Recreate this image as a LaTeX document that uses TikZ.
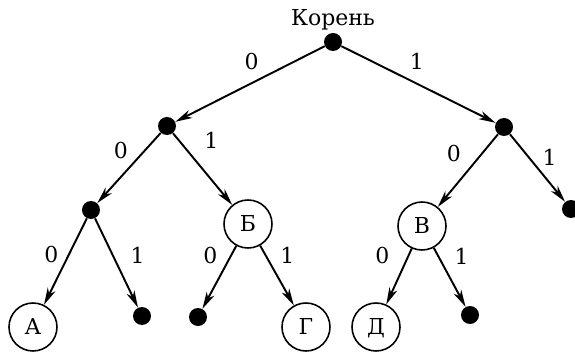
\documentclass[tikz,border=0pt]{standalone}
\usepackage{fontspec}
\setmainfont{DejaVu Serif}
\usetikzlibrary{arrows.meta,positioning}

\begin{document}
\begin{tikzpicture}[
  dot/.style={circle, fill=black, inner sep=0pt, minimum size=0.36cm, on grid},
  letter/.style={circle, draw, line width=0.9pt, inner sep=0pt, minimum size=0.96cm, on grid,
    font=\fontsize{12.5}{14}\selectfont, text height=9.1pt, text depth=0pt},
  bit/.style={inner sep=0pt, font=\fontsize{12.5}{14}\selectfont},
  arrow/.style={line width=1.1pt, -{Stealth[length=0.34cm, width=0.17cm, inset=0.1cm]}}]

  \useasboundingbox (-6.66,0.84) rectangle (4.84,-6.24);

  \node[dot] (root) at (0,0) {};
  \node[on grid, above=0.45cm of root, font=\fontsize{12.5}{14}\selectfont] (rootname) {Корень};
  \node[dot, below left=1.68cm and 3.32cm of root] (n0) {};
  \node[dot, below right=1.70cm and 3.42cm of root] (n1) {};
  \node[dot, below left=1.68cm and 1.52cm of n0] (n00) {};
  \node[letter, below right=1.96cm and 1.62cm of n0] (n01) {Б};
  \node[letter, below left=1.98cm and 1.64cm of n1] (n10) {В};
  \node[dot, below right=1.64cm and 1.34cm of n1] (n11) {};
  \node[letter, below left=2.34cm and 1.16cm of n00] (n000) {А};
  \node[dot, below right=2.12cm and 1.02cm of n00] (n001) {};
  \node[dot, below left=1.86cm and 1.00cm of n01] (n010) {};
  \node[letter, below right=2.06cm and 1.16cm of n01] (n011) {Г};
  \node[letter, below left=2.02cm and 0.92cm of n10] (n100) {Д};
  \node[dot, below right=1.78cm and 0.96cm of n10] (n101) {};

  \draw[arrow] (root) -- node[bit, pos=0.49, above=0.24cm] (b0) {0} (n0);
  \draw[arrow] (root) -- node[bit, pos=0.49, above=0.27cm] (b1) {1} (n1);
  \draw[arrow] (n0) -- node[bit, pos=0.25, left=0.32cm] (b00) {0} (n00);
  \draw[arrow] (n0) -- node[bit, pos=0.10, right=0.49cm] (b01) {1} (n01);
  \draw[arrow] (n1) -- node[bit, pos=0.26, left=0.41cm] (b10) {0} (n10);
  \draw[arrow] (n1) -- node[bit, pos=0.34, right=0.26cm] (b11) {1} (n11);
  \draw[arrow] (n00) -- node[bit, pos=0.42, left=0.19cm] (b000) {0} (n000);
  \draw[arrow] (n00) -- node[bit, pos=0.41, right=0.34cm] (b001) {1} (n001);
  \draw[arrow] (n01) -- node[bit, pos=0.16, left=0.25cm] (b010) {0} (n010);
  \draw[arrow] (n01) -- node[bit, pos=0.17, right=0.27cm] (b011) {1} (n011);
  \draw[arrow] (n10) -- node[bit, pos=0.13, left=0.36cm] (b100) {0} (n100);
  \draw[arrow] (n10) -- node[bit, pos=0.14, right=0.31cm] (b101) {1} (n101);

\end{tikzpicture}
\end{document}
